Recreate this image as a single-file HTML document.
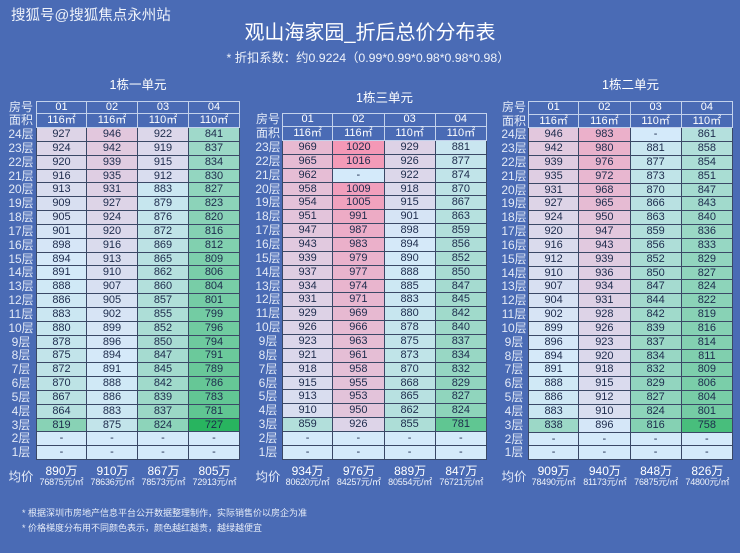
<!DOCTYPE html>
<html><head><meta charset="utf-8">
<style>
html,body{margin:0;padding:0}
body{width:740px;height:553px;background:#4a6bb5;overflow:hidden;position:relative;font-family:"Liberation Sans","Noto Sans CJK SC",sans-serif;}
.abs{position:absolute;white-space:nowrap}
.wm{left:11px;top:7px;font-size:14.5px;color:#eef2fa;line-height:18px}
.title{left:0;width:740px;text-align:center;top:21px;font-size:20px;line-height:24px;color:#fff}
.sub{left:0;width:736px;text-align:center;top:51px;font-size:12.3px;line-height:14px;color:#eef2fa}
.tt{font-size:12.5px;line-height:14px;color:#fff;text-align:center;width:120px}
.tb{position:absolute}
.r{display:flex;height:var(--h)}
.r b{display:block;width:var(--lw);flex:none;font-weight:normal;color:#e3eaf7;font-size:12px;line-height:var(--h);text-align:center;white-space:nowrap}
.r span{display:block;flex:none;width:var(--cw);box-sizing:border-box;border-right:1px solid #3a4866;border-bottom:1px solid #3a4866;text-align:center;font-size:11px;line-height:calc(var(--h) - 1px);color:#1d2b4c;background:#d4eafa}
.r span:first-of-type{border-left:1px solid #3a4866}
.r.h span{background:transparent;color:#fff;border-color:#c3d2ec}
.r.h.top span{border-top:1px solid #c3d2ec;line-height:calc(var(--h) - 2px)}
.ft{position:absolute;display:flex;top:465px}
.ft b{display:block;flex:none;font-weight:normal;color:#e3eaf7;font-size:12.5px;line-height:14px;padding-top:5px;text-align:center}
.ft div{flex:none;text-align:center;color:#fff}
.ft i{display:block;font-style:normal;font-size:12px;line-height:12px}
.ft em{display:block;font-style:normal;font-size:9px;line-height:10px;color:#eef2fa;letter-spacing:-0.2px}
.note{left:22px;font-size:9px;line-height:11px;color:#e6ecf8}
</style></head><body>
<div class="abs wm">搜狐号@搜狐焦点永州站</div>
<div class="abs title">观山海家园_折后总价分布表</div>
<div class="abs sub">* 折扣系数：约0.9224（0.99*0.99*0.98*0.98*0.98）</div>

<div class="abs tt" style="left:78px;top:78px">1栋一单元</div>
<div class="abs tt" style="left:324.5px;top:91px">1栋三单元</div>
<div class="abs tt" style="left:570.5px;top:78px">1栋二单元</div>

<!-- Table 1 -->
<div class="tb" style="left:6px;top:100.5px;--h:13.83px;--lw:30px;--cw:51px">
<div class="r h top"><b>房号</b><span>01</span><span>02</span><span>03</span><span>04</span></div>
<div class="r h"><b>面积</b><span>116㎡</span><span>116㎡</span><span>110㎡</span><span>110㎡</span></div>
<div class="r d"><b>24层</b><span>927</span><span>946</span><span>922</span><span>841</span></div>
<div class="r d"><b>23层</b><span>924</span><span>942</span><span>919</span><span>837</span></div>
<div class="r d"><b>22层</b><span>920</span><span>939</span><span>915</span><span>834</span></div>
<div class="r d"><b>21层</b><span>916</span><span>935</span><span>912</span><span>830</span></div>
<div class="r d"><b>20层</b><span>913</span><span>931</span><span>883</span><span>827</span></div>
<div class="r d"><b>19层</b><span>909</span><span>927</span><span>879</span><span>823</span></div>
<div class="r d"><b>18层</b><span>905</span><span>924</span><span>876</span><span>820</span></div>
<div class="r d"><b>17层</b><span>901</span><span>920</span><span>872</span><span>816</span></div>
<div class="r d"><b>16层</b><span>898</span><span>916</span><span>869</span><span>812</span></div>
<div class="r d"><b>15层</b><span>894</span><span>913</span><span>865</span><span>809</span></div>
<div class="r d"><b>14层</b><span>891</span><span>910</span><span>862</span><span>806</span></div>
<div class="r d"><b>13层</b><span>888</span><span>907</span><span>860</span><span>804</span></div>
<div class="r d"><b>12层</b><span>886</span><span>905</span><span>857</span><span>801</span></div>
<div class="r d"><b>11层</b><span>883</span><span>902</span><span>855</span><span>799</span></div>
<div class="r d"><b>10层</b><span>880</span><span>899</span><span>852</span><span>796</span></div>
<div class="r d"><b>9层</b><span>878</span><span>896</span><span>850</span><span>794</span></div>
<div class="r d"><b>8层</b><span>875</span><span>894</span><span>847</span><span>791</span></div>
<div class="r d"><b>7层</b><span>872</span><span>891</span><span>845</span><span>789</span></div>
<div class="r d"><b>6层</b><span>870</span><span>888</span><span>842</span><span>786</span></div>
<div class="r d"><b>5层</b><span>867</span><span>886</span><span>839</span><span>783</span></div>
<div class="r d"><b>4层</b><span>864</span><span>883</span><span>837</span><span>781</span></div>
<div class="r d"><b>3层</b><span>819</span><span>875</span><span>824</span><span>727</span></div>
<div class="r d"><b>2层</b><span>-</span><span>-</span><span>-</span><span>-</span></div>
<div class="r d"><b>1层</b><span>-</span><span>-</span><span>-</span><span>-</span></div>
</div>
<div class="ft" style="left:6px"><b style="width:30px">均价</b>
<div style="width:51px"><i>890万</i><em>76875元/㎡</em></div>
<div style="width:51px"><i>910万</i><em>78636元/㎡</em></div>
<div style="width:51px"><i>867万</i><em>78573元/㎡</em></div>
<div style="width:51px"><i>805万</i><em>72913元/㎡</em></div>
</div>

<!-- Table 2 -->
<div class="tb" style="left:254px;top:113.3px;--h:13.87px;--lw:28px;--cw:51.25px">
<div class="r h top"><b>房号</b><span>01</span><span>02</span><span>03</span><span>04</span></div>
<div class="r h"><b>面积</b><span>116㎡</span><span>116㎡</span><span>110㎡</span><span>110㎡</span></div>
<div class="r d"><b>23层</b><span>969</span><span>1020</span><span>929</span><span>881</span></div>
<div class="r d"><b>22层</b><span>965</span><span>1016</span><span>926</span><span>877</span></div>
<div class="r d"><b>21层</b><span>962</span><span>-</span><span>922</span><span>874</span></div>
<div class="r d"><b>20层</b><span>958</span><span>1009</span><span>918</span><span>870</span></div>
<div class="r d"><b>19层</b><span>954</span><span>1005</span><span>915</span><span>867</span></div>
<div class="r d"><b>18层</b><span>951</span><span>991</span><span>901</span><span>863</span></div>
<div class="r d"><b>17层</b><span>947</span><span>987</span><span>898</span><span>859</span></div>
<div class="r d"><b>16层</b><span>943</span><span>983</span><span>894</span><span>856</span></div>
<div class="r d"><b>15层</b><span>939</span><span>979</span><span>890</span><span>852</span></div>
<div class="r d"><b>14层</b><span>937</span><span>977</span><span>888</span><span>850</span></div>
<div class="r d"><b>13层</b><span>934</span><span>974</span><span>885</span><span>847</span></div>
<div class="r d"><b>12层</b><span>931</span><span>971</span><span>883</span><span>845</span></div>
<div class="r d"><b>11层</b><span>929</span><span>969</span><span>880</span><span>842</span></div>
<div class="r d"><b>10层</b><span>926</span><span>966</span><span>878</span><span>840</span></div>
<div class="r d"><b>9层</b><span>923</span><span>963</span><span>875</span><span>837</span></div>
<div class="r d"><b>8层</b><span>921</span><span>961</span><span>873</span><span>834</span></div>
<div class="r d"><b>7层</b><span>918</span><span>958</span><span>870</span><span>832</span></div>
<div class="r d"><b>6层</b><span>915</span><span>955</span><span>868</span><span>829</span></div>
<div class="r d"><b>5层</b><span>913</span><span>953</span><span>865</span><span>827</span></div>
<div class="r d"><b>4层</b><span>910</span><span>950</span><span>862</span><span>824</span></div>
<div class="r d"><b>3层</b><span>859</span><span>926</span><span>855</span><span>781</span></div>
<div class="r d"><b>2层</b><span>-</span><span>-</span><span>-</span><span>-</span></div>
<div class="r d"><b>1层</b><span>-</span><span>-</span><span>-</span><span>-</span></div>
</div>
<div class="ft" style="left:254px"><b style="width:28px">均价</b>
<div style="width:51.25px"><i>934万</i><em>80620元/㎡</em></div>
<div style="width:51.25px"><i>976万</i><em>84257元/㎡</em></div>
<div style="width:51.25px"><i>889万</i><em>80554元/㎡</em></div>
<div style="width:51.25px"><i>847万</i><em>76721元/㎡</em></div>
</div>

<!-- Table 3 -->
<div class="tb" style="left:500px;top:100.7px;--h:13.83px;--lw:28px;--cw:51.25px">
<div class="r h top"><b>房号</b><span>01</span><span>02</span><span>03</span><span>04</span></div>
<div class="r h"><b>面积</b><span>116㎡</span><span>116㎡</span><span>110㎡</span><span>110㎡</span></div>
<div class="r d"><b>24层</b><span>946</span><span>983</span><span>-</span><span>861</span></div>
<div class="r d"><b>23层</b><span>942</span><span>980</span><span>881</span><span>858</span></div>
<div class="r d"><b>22层</b><span>939</span><span>976</span><span>877</span><span>854</span></div>
<div class="r d"><b>21层</b><span>935</span><span>972</span><span>873</span><span>851</span></div>
<div class="r d"><b>20层</b><span>931</span><span>968</span><span>870</span><span>847</span></div>
<div class="r d"><b>19层</b><span>927</span><span>965</span><span>866</span><span>843</span></div>
<div class="r d"><b>18层</b><span>924</span><span>950</span><span>863</span><span>840</span></div>
<div class="r d"><b>17层</b><span>920</span><span>947</span><span>859</span><span>836</span></div>
<div class="r d"><b>16层</b><span>916</span><span>943</span><span>856</span><span>833</span></div>
<div class="r d"><b>15层</b><span>912</span><span>939</span><span>852</span><span>829</span></div>
<div class="r d"><b>14层</b><span>910</span><span>936</span><span>850</span><span>827</span></div>
<div class="r d"><b>13层</b><span>907</span><span>934</span><span>847</span><span>824</span></div>
<div class="r d"><b>12层</b><span>904</span><span>931</span><span>844</span><span>822</span></div>
<div class="r d"><b>11层</b><span>902</span><span>928</span><span>842</span><span>819</span></div>
<div class="r d"><b>10层</b><span>899</span><span>926</span><span>839</span><span>816</span></div>
<div class="r d"><b>9层</b><span>896</span><span>923</span><span>837</span><span>814</span></div>
<div class="r d"><b>8层</b><span>894</span><span>920</span><span>834</span><span>811</span></div>
<div class="r d"><b>7层</b><span>891</span><span>918</span><span>832</span><span>809</span></div>
<div class="r d"><b>6层</b><span>888</span><span>915</span><span>829</span><span>806</span></div>
<div class="r d"><b>5层</b><span>886</span><span>912</span><span>827</span><span>804</span></div>
<div class="r d"><b>4层</b><span>883</span><span>910</span><span>824</span><span>801</span></div>
<div class="r d"><b>3层</b><span>838</span><span>896</span><span>816</span><span>758</span></div>
<div class="r d"><b>2层</b><span>-</span><span>-</span><span>-</span><span>-</span></div>
<div class="r d"><b>1层</b><span>-</span><span>-</span><span>-</span><span>-</span></div>
</div>
<div class="ft" style="left:500px"><b style="width:28px">均价</b>
<div style="width:51.25px"><i>909万</i><em>78490元/㎡</em></div>
<div style="width:51.25px"><i>940万</i><em>81173元/㎡</em></div>
<div style="width:51.25px"><i>848万</i><em>76875元/㎡</em></div>
<div style="width:51.25px"><i>826万</i><em>74800元/㎡</em></div>
</div>

<div class="abs note" style="top:508px">* 根据深圳市房地产信息平台公开数据整理制作，实际销售价以房企为准</div>
<div class="abs note" style="top:523px">* 价格梯度分布用不同颜色表示，颜色越红越贵，越绿越便宜</div>

<script>
(function(){
var lo=[40,180,95], mid=[212,234,250], hi=[244,152,182];
var vmin=727, vmid=892, vmax=1020;
function mix(a,b,t){t=Math.max(0,Math.min(1,t));return 'rgb('+Math.round(a[0]+(b[0]-a[0])*t)+','+Math.round(a[1]+(b[1]-a[1])*t)+','+Math.round(a[2]+(b[2]-a[2])*t)+')';}
var cells=document.querySelectorAll('.r.d span');
for(var i=0;i<cells.length;i++){
  var s=cells[i], v=parseFloat(s.textContent);
  if(isNaN(v)) continue;
  s.style.background = v>=vmid ? mix(mid,hi,(v-vmid)/(vmax-vmid)) : mix(mid,lo,(vmid-v)/(vmid-vmin));
}
})();
</script>
</body></html>
